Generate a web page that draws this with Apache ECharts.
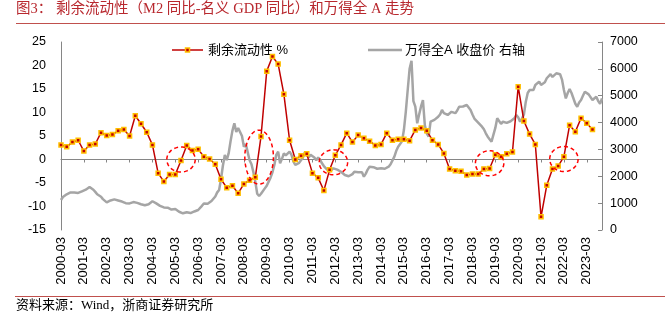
<!DOCTYPE html>
<html><head><meta charset="utf-8">
<script src="https://cdn.jsdelivr.net/npm/echarts@6/dist/echarts.min.js"></script>
<style>html,body{margin:0;padding:0;background:#fff}#c{width:665px;height:321px}</style>
</head><body><div id="c"></div>
<script>
// monthly categories 2000-03 .. 2023-11
const months = [];
for (let y = 2000, m = 3; y < 2023 || (y === 2023 && m <= 11);) {
  months.push(y + '-' + String(m).padStart(2, '0'));
  m++; if (m > 12) { m = 1; y++; }
}
// quarterly categories 2000-03 .. 2023-06
const quarters = months.filter((_, i) => i % 3 === 0 && i <= 279);

// 剩余流动性 % (quarterly)
const surplusLiquidity = [
  3.1, 2.7, 3.7, 4.1,  1.8, 3.1, 3.3, 5.7,  5.1, 5.3, 6.1, 6.4,  5.0, 9.3, 7.6, 5.8,
  3.1, -2.9, -4.7, -3.2,  -3.2, -0.2, 3.0, 1.9,  2.2, 0.6, 0.1, -1.0,  -4.2, -6.0, -5.6, -7.2,
  -5.2, -4.4, -3.8, 4.9,  18.8, 21.9, 20.3, 13.9,  4.1, 0.0, 0.8, 1.2,  -2.9, -3.9, -6.6, -2.2,
  0.9, 3.1, 5.6, 3.7,  5.2, 4.5, 3.9, 3.0,  3.2, 5.6, 4.1, 4.3,  4.3, 4.0, 6.3, 6.7,
  6.1, 4.1, 3.2, 1.3,  -2.0, -2.4, -2.5, -3.3,  -3.1, -3.1, -2.0, -1.9,  1.0, 0.6, 1.2, 1.6,
  15.5, 8.2, 5.4, 3.2,  -12.2, -5.5, -2.0, -1.4,  0.6, 7.3, 5.9, 8.8,  7.7, 6.4
];

// 万得全A 收盘价 (monthly)
const windAllA = [
  1117,1230,1290,1330,1380,1400,1430,1400,1430,1380,
  1400,1440,1480,1500,1540,1600,1613,1500,1420,1330,1260,1240,
  1150,1090,1030,1080,1100,1170,1140,1120,1100,1117,1060,1040,
  1000,1000,990,1020,1040,1030,1010,980,960,940,920,906,
  960,1020,1070,1080,990,930,900,860,840,860,830,800,
  760,745,780,720,680,640,621,650,660,640,630,650,
  690,720,745,790,900,990,960,980,1020,1080,1117,1250,
  1400,1489,1900,2400,2793,2600,2850,3300,3700,3972,3650,3800,
  3848,3500,3100,3200,2900,2600,2450,2150,1800,1350,1266,1350,
  1400,1550,1650,1800,1950,2150,2420,2800,2916,2483,2650,2855,
  2780,2850,2916,2800,2550,2420,2380,2500,2550,2700,2900,2793,
  2700,2800,2780,2700,2600,2700,2620,2483,2380,2300,2234,2180,
  2150,2296,2300,2250,2200,2170,2100,2048,2080,2000,1950,2080,
  2172,2200,2150,2110,2150,1986,2100,2250,2358,2380,2340,2300,
  2280,2330,2300,2300,2280,2320,2358,2450,2500,2730,2950,3103,
  3150,3300,3723,4400,5213,6000,6304,4800,4591,3972,4300,4600,
  4840,3900,3600,3474,4033,4000,4100,4150,4219,4300,4468,4350,
  4350,4282,4350,4400,4468,4350,4450,4591,4550,4600,4650,4654,
  4700,4468,4300,4150,4096,4000,3950,3848,3750,3600,3474,3400,
  3288,3300,3800,4158,4100,3950,4033,4000,3990,4033,4050,4100,
  4158,4282,4200,4033,4150,4300,4778,5100,5213,5150,5213,5400,
  5450,5523,5400,5460,5500,5650,5709,5800,5700,5709,5834,5895,
  5800,5600,5213,4900,5100,5250,5100,5027,4700,4591,4750,4840,
  5000,5150,5100,5050,4980,4840,4900,4963,4800,4700,4900
];

const seriesNames = ['剩余流动性 %', '万得全A 收盘价 右轴'];
const leftTicks = [-15, 25, 5];
const rightTicks = [0, 7000, 1000];
// highlighted spots (category, value)
const highlights = [['2005-06', 0], ['2008-11', 0.5], ['2012-02', -0.6], ['2018-12', -0.8], ['2022-03', 0.1]];

const sans = '"Liberation Sans","Noto Sans CJK SC",sans-serif';
const serif = '"Liberation Serif","Noto Sans CJK SC",serif';
const RED = '#C00000', GREY = '#A5A5A5', MARK = '#FFC000', AXIS = '#868686';

const chart = echarts.init(document.getElementById('c'));
const option = {
  animation: false,
  grid: { left: 61, right: 63, top: 42, bottom: 91 },
  xAxis: [
    { type: 'category', data: months, boundaryGap: false, position: 'bottom',
      axisLine: { onZero: true, onZeroAxisIndex: 0, lineStyle: { color: AXIS, width: 1 } },
      axisTick: { interval: 11, length: 3, lineStyle: { color: AXIS } },
      axisLabel: { show: false }, splitLine: { show: false } },
    { type: 'category', data: months, boundaryGap: false, position: 'bottom',
      axisLine: { show: false, onZero: false }, axisTick: { show: false },
      axisLabel: { interval: 11, rotate: 90, fontSize: 13, color: '#000', margin: 7, fontFamily: sans },
      splitLine: { show: false } }
  ],
  yAxis: [
    { type: 'value', min: leftTicks[0], max: leftTicks[1], interval: leftTicks[2],
      splitLine: { show: false },
      axisLine: { show: true, lineStyle: { color: AXIS } }, axisTick: { show: false },
      axisLabel: { fontSize: 12.5, color: '#000', margin: 15, fontFamily: sans } },
    { type: 'value', min: rightTicks[0], max: rightTicks[1], interval: rightTicks[2], position: 'right',
      splitLine: { show: false },
      axisLine: { show: true, lineStyle: { color: AXIS } },
      axisTick: { show: true, inside: true, length: 4, lineStyle: { color: AXIS } },
      axisLabel: { fontSize: 12.5, color: '#000', margin: 8, fontFamily: sans, formatter: v => String(v) } }
  ],
  series: [
    { name: seriesNames[1], type: 'line', xAxisIndex: 0, yAxisIndex: 1, data: windAllA,
      symbol: 'none', lineStyle: { color: GREY, width: 2.5 }, itemStyle: { color: GREY } },
    { name: seriesNames[0], type: 'line', xAxisIndex: 0, yAxisIndex: 0,
      data: quarters.map((q, i) => [q, surplusLiquidity[i]]),
      symbol: 'rect', symbolSize: 4, showSymbol: true, showAllSymbol: true,
      lineStyle: { color: RED, width: 1.5 },
      itemStyle: { color: RED, borderColor: MARK, borderWidth: 1.5 } }
  ]
};
chart.setOption(option);

const legendY = 50;
const graphics = [
  { type: 'text', left: 16, top: 2, style: { text: '图3：', font: '14.5px ' + serif, fill: '#B8282E' } },
  { type: 'text', left: 56, top: 2, style: { text: '剩余流动性（M2 同比-名义 GDP 同比）和万得全 A 走势', font: '14.5px ' + serif, fill: '#B8282E' } },
  { type: 'line', shape: { x1: 16, y1: 23.5, x2: 665, y2: 23.5 }, style: { stroke: '#C0504D', lineWidth: 1.2 } },
  { type: 'line', shape: { x1: 15, y1: 296.5, x2: 665, y2: 296.5 }, style: { stroke: '#C0504D', lineWidth: 1.2 } },
  { type: 'text', left: 16, top: 299, style: { text: '资料来源：Wind，浙商证券研究所', font: '13px ' + serif, fill: '#000' } },
  // legend
  { type: 'line', shape: { x1: 172, y1: legendY, x2: 203, y2: legendY }, style: { stroke: RED, lineWidth: 1.5 } },
  { type: 'rect', shape: { x: 185.5, y: legendY - 2, width: 4, height: 4 }, style: { fill: RED, stroke: MARK, lineWidth: 1.5 } },
  { type: 'text', x: 208, y: legendY, style: { text: seriesNames[0], font: '13px ' + sans, fill: '#000', verticalAlign: 'middle' } },
  { type: 'line', shape: { x1: 368, y1: legendY, x2: 402, y2: legendY }, style: { stroke: GREY, lineWidth: 2.5 } },
  { type: 'text', x: 405, y: legendY, style: { text: seriesNames[1], font: '13px ' + sans, fill: '#000', verticalAlign: 'middle' } }
];
const radii = [[14.2, 12.5], [14.3, 27], [14.2, 12.5], [14.2, 12.5], [14.2, 12.5]];
highlights.forEach((h, idx) => {
  const c = chart.convertToPixel({ xAxisIndex: 0, yAxisIndex: 0 }, h);
  const [rx, ry] = radii[idx];
  const pts = [];
  for (let k = 0; k < 60; k++) {
    const a = 2 * Math.PI * k / 60;
    pts.push([c[0] + rx * Math.cos(a), c[1] + ry * Math.sin(a)]);
  }
  graphics.push({ type: 'polygon', z: 100, shape: { points: pts },
    style: { fill: 'none', stroke: '#FF0000', lineWidth: 1.5, lineDash: [4, 3] } });
});
chart.setOption({ graphic: graphics });
</script></body></html>
